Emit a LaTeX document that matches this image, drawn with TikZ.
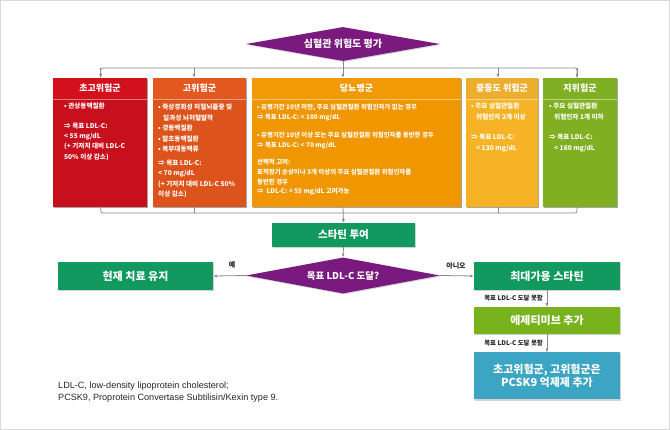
\documentclass[tikz,border=0pt]{standalone}
\usepackage{fontspec}
\setmainfont{Noto Sans CJK KR}
\newfontfamily\latfont{Liberation Sans}
\usetikzlibrary{shapes.geometric,arrows.meta,shadows}
\definecolor{purp}{HTML}{7A1A7F}
\definecolor{redH}{HTML}{D3111D}
\definecolor{redB}{HTML}{C8101C}
\definecolor{orgH}{HTML}{E2581F}
\definecolor{orgB}{HTML}{DD531C}
\definecolor{ambH}{HTML}{F29A05}
\definecolor{ambB}{HTML}{F09600}
\definecolor{yelH}{HTML}{EDAE2E}
\definecolor{yelB}{HTML}{F6B326}
\definecolor{grnH}{HTML}{7FAF22}
\definecolor{grnB}{HTML}{80B022}
\definecolor{dkgreen}{HTML}{12995F}
\definecolor{lime}{HTML}{78B31E}
\definecolor{teal}{HTML}{3BA5C3}
\definecolor{conn}{HTML}{8A8A8A}
\newcommand\catbox[6]{%
  \fill[black,opacity=.35] (#2+1.3,79) rectangle (#3+1.3,208);
  \fill[#5] (#2,77.7) rectangle (#3,206.7);
  \fill[#4] (#2,77.7) rectangle (#3,99);
  \draw[white,opacity=.45,line width=.7] (#2,99) -- (#3,99);
  \node[headtxt] (#1) at ({(#2+#3)/2},88.5) {#6};
}
\begin{document}
\begin{tikzpicture}[x=1pt,y=-1pt,
  headtxt/.style={text=white,font=\bfseries\fontsize{9}{10}\selectfont,inner sep=0pt},
  bodytxt/.style={text=white,font=\bfseries\fontsize{6.6}{10.4}\selectfont,inner sep=0pt,align=left,anchor=north west},
  bigbox/.style={text=white,font=\bfseries\fontsize{11}{13.5}\selectfont,inner sep=0pt,align=center,
    drop shadow={shadow xshift=1.3pt,shadow yshift=-1.3pt,opacity=.35}},
  dia/.style={diamond,fill=purp,text=white,inner sep=0pt,aspect=5,
    drop shadow={shadow xshift=1pt,shadow yshift=-1pt,opacity=.3}},
  line/.style={draw=conn,line width=.8pt},
  arr/.style={line,-{Latex[length=3.6pt,width=3pt]}},
  lbl/.style={font=\bfseries\fontsize{6.4}{7}\selectfont,text=black!85,inner sep=0pt},
]
\useasboundingbox (0,0) rectangle (670,430);
\fill[white] (0,0) rectangle (670,430);
\draw[black!15,line width=1.6pt] (0,0) rectangle (670,430);

% top diamond
\node[dia,minimum width=194pt,minimum height=34pt,font=\bfseries\fontsize{10}{12}\selectfont] (d1) at (343,44) {심혈관 위험도 평가};

% category boxes
\catbox{c1}{53}{147}{redH}{redB}{초고위험군}
\catbox{c2}{153}{246}{orgH}{orgB}{고위험군}
\catbox{c3}{252}{461}{ambH}{ambB}{당뇨병군}
\catbox{c4}{466}{538}{yelH}{yelB}{중등도 위험군}
\catbox{c5}{543}{617}{grnH}{grnB}{지위험군}

% top connectors
\coordinate (h1) at (100.7,68); \coordinate (e1) at (100.7,77.7);
\coordinate (h2) at (194,68);   \coordinate (e2) at (194,77.7);
\coordinate (h3) at (343,68);   \coordinate (e3) at (343,77.7);
\coordinate (h4) at (498,68);   \coordinate (e4) at (498,77.7);
\coordinate (h5) at (577,68);   \coordinate (e5) at (577,77.7);
\draw[line,rounded corners=2pt] (e1) -- (h1) -- (h5) -- (e5);
\foreach \i in {1,2,4,5} \draw[arr] (h\i) -- (e\i);
\draw[arr] (d1.south) -- (e3);

% body texts
\node[bodytxt] (t1) at (64,103) {• 관상동맥질환\\[9pt]⇒ 목표 LDL-C:\\< 55 mg/dL\\(+ 기저치 대비 LDL-C\\50\% 이상 감소)};
\node[bodytxt] (t2) at (158,104) {• 죽상경화성 허혈뇌졸중 및\\\hspace{5pt}일과성 뇌허혈발작\\• 경동맥질환\\• 말초동맥질환\\• 복부대동맥류\\[3.5pt]⇒ 목표 LDL-C:\\< 70 mg/dL\\(+ 기저치 대비 LDL-C 50\%\\이상 감소)};
\node[bodytxt,font=\bfseries\fontsize{6.4}{9.9}\selectfont] (t3) at (257,104) {• 유병기간 10년 미만, 주요 심혈관질환 위험인자가 없는 경우\\⇒ 목표 LDL-C: < 100 mg/dL\\[8pt]• 유병기간 10년 이상 또는 주요 심혈관질환 위험인자를 동반한 경우\\⇒ 목표 LDL-C: < 70 mg/dL\\[7pt]선택적 고려:\\표적장기 손상이나 3개 이상의 주요 심혈관질환 위험인자를\\동반한 경우\\⇒ \ LDL-C: < 55 mg/dL 고려가능};
\node[bodytxt] (t4) at (471,103) {• 주요 심혈관질환\\\hspace{5pt}위험인자 2개 이상\\[10pt]⇒ 목표 LDL-C:\\\hspace{5pt}< 130 mg/dL};
\node[bodytxt] (t5) at (549,103) {• 주요 심혈관질환\\\hspace{5pt}위험인자 1개 이하\\[10pt]⇒ 목표 LDL-C:\\\hspace{5pt}< 160 mg/dL};

% bottom bracket
\coordinate (b1) at (100.7,206.7); \coordinate (g1) at (100.7,213);
\coordinate (b2) at (194,206.7);   \coordinate (g2) at (194,213);
\coordinate (b3) at (343,206.7);
\coordinate (b4) at (498,206.7);   \coordinate (g4) at (498,213);
\coordinate (b5) at (577,206.7);   \coordinate (g5) at (577,213);
\draw[line,rounded corners=2pt] (b1) -- (g1) -- (g5) -- (b5);
\draw[line] (b2) -- (g2);
\draw[line] (b4) -- (g4);

% statin
\node[bigbox,fill=dkgreen,minimum width=143pt,minimum height=24pt,font=\bfseries\fontsize{10.5}{12}\selectfont] (statin) at (343.5,235) {스타틴 투여};
\draw[arr] (b3) -- (statin.north);

% second diamond
\node[dia,minimum width=194pt,minimum height=36pt,font=\bfseries\fontsize{9.5}{11}\selectfont] (d2) at (343,275.5) {목표 LDL-C 도달?};
\draw[arr] (statin.south) -- (d2.north);

\node[bigbox,fill=dkgreen,minimum width=155pt,minimum height=28pt] (keep) at (135.5,276) {현재 치료 유지};
\node[bigbox,fill=dkgreen,minimum width=146pt,minimum height=28pt] (maxst) at (547,276) {최대가용 스타틴};
\draw[arr] (d2.west) -- (keep.east);
\draw[arr] (d2.east) -- (maxst.west);
\node[lbl,font=\bfseries\fontsize{7}{8}\selectfont] (yes) at (232,265) {예};
\node[lbl,font=\bfseries\fontsize{7}{8}\selectfont] (no) at (456,266) {아니오};

\node[bigbox,fill=lime,minimum width=146pt,minimum height=27pt] (ezet) at (547,320.5) {에제티미브 추가};
\node[bigbox,fill=teal,minimum width=146pt,minimum height=47pt] (pcsk) at (547,376) {초고위험군, 고위험군은\\PCSK9 억제제 추가};
\draw[arr] (maxst.south) -- (ezet.north);
\draw[arr] (ezet.south) -- (pcsk.north);
\node[lbl,anchor=east] (l1) at (543,298) {목표 LDL-C 도달 못함};
\node[lbl,anchor=east] (l2) at (543,343) {목표 LDL-C 도달 못함};

% footnote
\node[anchor=base west,inner sep=0pt,align=left,text=black!85,font=\latfont\fontsize{9.1}{11.5}\selectfont] (fn) at (58,400.5) {LDL-C, low-density lipoprotein cholesterol;\\PCSK9, Proprotein Convertase Subtilisin/Kexin type 9.};
\end{tikzpicture}
\end{document}
